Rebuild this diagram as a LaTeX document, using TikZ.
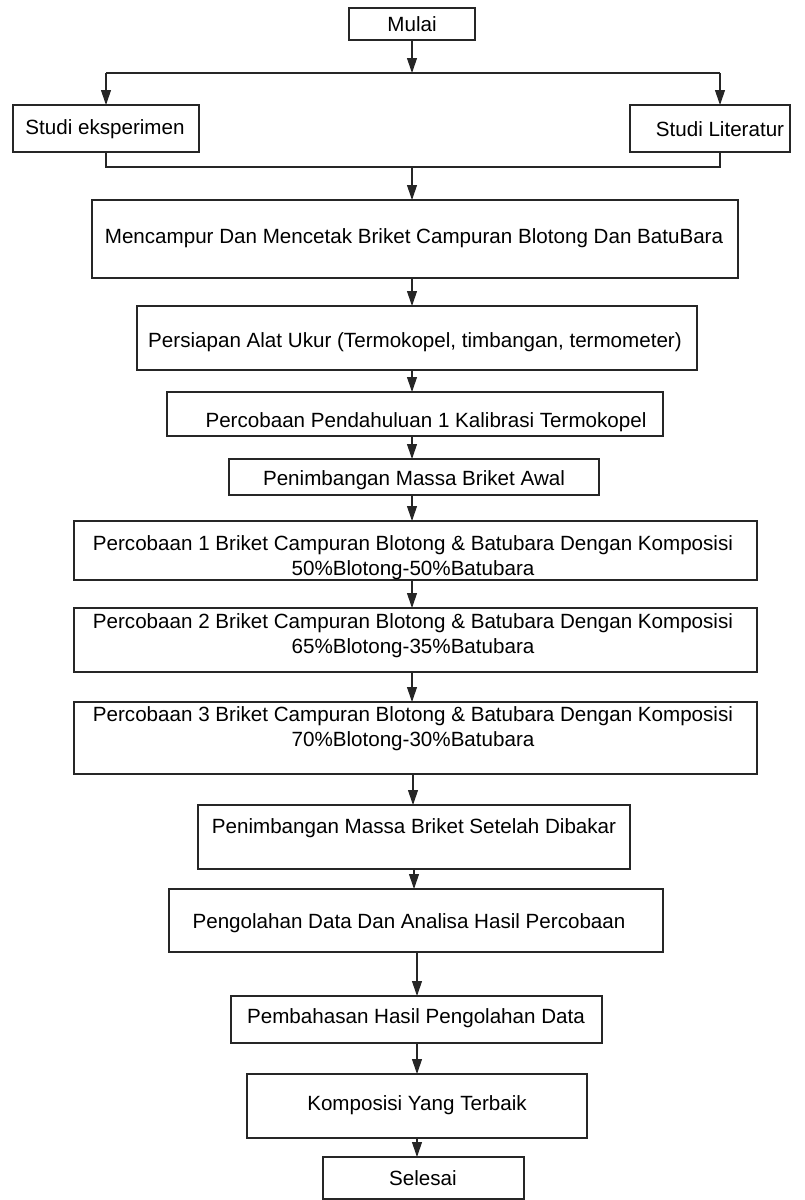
\documentclass[tikz,border=0pt]{standalone}
\usepackage{fontspec}
\setmainfont{Liberation Sans}
\usetikzlibrary{arrows.meta}
\tikzset{
  boxstyle/.style={draw=black!85, line width=1.1pt, rectangle, inner sep=0pt, outer sep=0pt},
  txtstyle/.style={inner sep=0pt, align=center, font=\fontsize{20.6}{25}\selectfont},
  arr/.style={draw=black!85, line width=1.1pt, -{Triangle[length=15pt,width=10pt]}},
  ln/.style={draw=black!85, line width=1.1pt}
}
% name, x1, y1, x2, y2, tx, ty, text
\newcommand\flowbox[8]{%
  \node[boxstyle, minimum width={#4-#2}, minimum height={#5-#3}] (#1) at ({(#2+#4)/2},{(#3+#5)/2}) {};
  \node[txtstyle] (#1-t) at (#6,#7) {#8};
}
\begin{document}
\begin{tikzpicture}[x=1pt,y=-1pt]
\useasboundingbox (0,0) rectangle (804,1200);
\flowbox{mulai}{349}{8}{475}{40}{412}{24}{Mulai}
\flowbox{eks}{13}{105}{199}{152}{105}{129}{Studi eksperimen}
\flowbox{lit}{630}{105}{790}{152}{720}{129}{Studi Literatur}
\flowbox{campur}{92}{200}{738}{278}{414}{238}{Mencampur Dan Mencetak Briket Campuran Blotong Dan BatuBara}
\flowbox{alat}{137}{306}{697}{370}{415}{342}{Persiapan Alat Ukur (Termokopel, timbangan, termometer)}
\flowbox{kal}{167}{392}{663}{436}{426}{422}{Percobaan Pendahuluan 1 Kalibrasi Termokopel}
\flowbox{awal}{229}{459}{599}{495}{414}{480}{Penimbangan Massa Briket Awal}
\flowbox{p1}{74}{521}{757}{580}{413}{557.5}{Percobaan 1 Briket Campuran Blotong \& Batubara Dengan Komposisi\\50\%Blotong-50\%Batubara}
\flowbox{p2}{74}{608}{757}{672}{413}{635.5}{Percobaan 2 Briket Campuran Blotong \& Batubara Dengan Komposisi\\65\%Blotong-35\%Batubara}
\flowbox{p3}{74}{702}{757}{774}{413}{728.5}{Percobaan 3 Briket Campuran Blotong \& Batubara Dengan Komposisi\\70\%Blotong-30\%Batubara}
\flowbox{bakar}{198}{805}{630}{869}{414}{828}{Penimbangan Massa Briket Setelah Dibakar}
\flowbox{olah}{169}{889}{663}{952}{409}{923}{Pengolahan Data Dan Analisa Hasil Percobaan}
\flowbox{bahas}{231}{996}{602}{1043}{416}{1018}{Pembahasan Hasil Pengolahan Data}
\flowbox{komp}{247}{1074}{587}{1138}{417}{1105}{Komposisi Yang Terbaik}
\flowbox{selesai}{323}{1157}{524}{1199}{423}{1178}{Selesai}

\coordinate (split) at (412,73);
\coordinate (join) at (412,167);
\draw[arr] (mulai.south) -- (split);
\draw[ln] (106,73) -- (720,73);
\draw[arr] (106,73) -- (106,105);
\draw[arr] (720,73) -- (720,105);
\draw[ln] (eks.south -| 106,0) -- (106,167) -- (720,167) -- (lit.south -| 720,0);
\draw[arr] (join) -- (campur.north -| join);
\draw[arr] (campur.south -| 412,0) -- (alat.north -| 412,0);
\draw[arr] (alat.south -| 412,0) -- (kal.north -| 412,0);
\draw[arr] (kal.south -| 412,0) -- (awal.north -| 412,0);
\draw[arr] (awal.south -| 412,0) -- (p1.north -| 412,0);
\draw[arr] (p1.south -| 412,0) -- (p2.north -| 412,0);
\draw[arr] (p2.south -| 412,0) -- (p3.north -| 412,0);
\draw[arr] (p3.south -| 413,0) -- (bakar.north -| 413,0);
\draw[arr] (bakar.south -| 414,0) -- (olah.north -| 414,0);
\draw[arr] (olah.south -| 417,0) -- (bahas.north -| 417,0);
\draw[arr] (bahas.south -| 417,0) -- (komp.north -| 417,0);
\draw[arr] (komp.south -| 417,0) -- (selesai.north -| 417,0);
\end{tikzpicture}
\end{document}
